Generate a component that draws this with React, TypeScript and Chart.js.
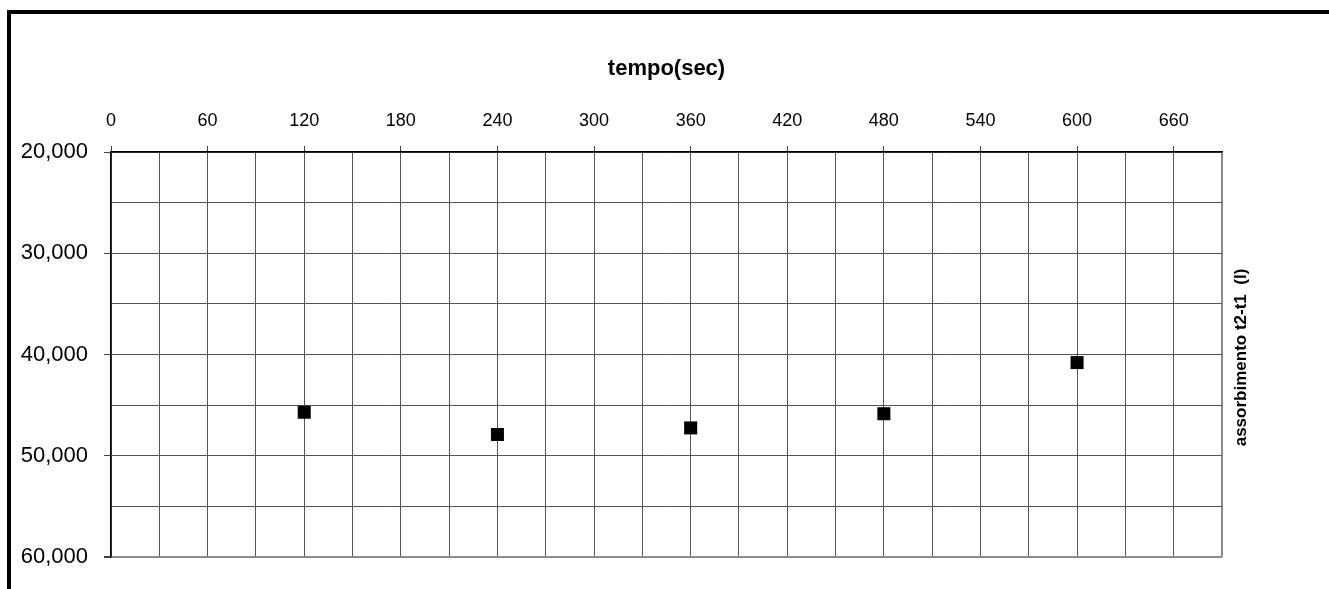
import React, { useEffect, useRef } from "react";
import { Chart, registerables } from "chart.js";

Chart.register(...registerables);

// Measurements: time (s) vs. absorption t2-t1 (l)
const tempoSec = [120, 240, 360, 480, 600];
const assorbimento = [45700, 47900, 47250, 45850, 40800];

// Labelled tick values (grid runs every half step)
const xLabelTicks = [0, 60, 120, 180, 240, 300, 360, 420, 480, 540, 600, 660];
const yLabelTicks = [20000, 30000, 40000, 50000, 60000];

const xTitle = "tempo(sec)";
const yTitle = "assorbimento t2-t1  (l)";

const FONT = "'Liberation Sans', Arial, Helvetica, sans-serif";

const formatThousands = (v: number) =>
  `${Math.floor(v / 1000)},${String(v % 1000).padStart(3, "0")}`;

// Right-hand axis title, reading bottom to top
const rightTitlePlugin = {
  id: "rightTitle",
  afterDraw(chart: any) {
    const { ctx, chartArea } = chart;
    ctx.save();
    ctx.translate(chartArea.right + 19, (chartArea.top + chartArea.bottom) / 2 + 3);
    ctx.rotate(-Math.PI / 2);
    ctx.font = `bold 17px ${FONT}`;
    ctx.fillStyle = "#000";
    ctx.textAlign = "center";
    ctx.textBaseline = "middle";
    ctx.fillText(yTitle, 0, 0);
    ctx.restore();
  },
};

export default function App() {
  const canvasRef = useRef<HTMLCanvasElement | null>(null);

  useEffect(() => {
    if (!canvasRef.current) return;
    const points = tempoSec.map((t, i) => ({ x: t, y: assorbimento[i] }));

    const chart = new Chart(canvasRef.current, {
      type: "scatter",
      data: {
        datasets: [
          {
            data: points,
            pointStyle: "rect",
            pointRadius: 9.2,
            pointHoverRadius: 9.2,
            backgroundColor: "#000",
            borderColor: "#000",
            borderWidth: 0,
          },
        ],
      },
      options: {
        animation: false,
        responsive: false,
        devicePixelRatio: 1,
        layout: { padding: { left: 0, top: 0, right: 107, bottom: 32 } },
        plugins: {
          legend: { display: false },
          tooltip: { enabled: false },
        },
        scales: {
          x: {
            type: "linear",
            position: "top",
            min: 0,
            max: 690,
            afterFit(scale: any) {
              scale.height = 152;
            },
            title: {
              display: true,
              text: xTitle,
              color: "#000",
              font: { family: FONT, size: 22, weight: "bold" },
              padding: { top: 55.5, bottom: 0 },
            },
            ticks: {
              stepSize: 30,
              autoSkip: false,
              maxRotation: 0,
              padding: 14,
              color: "#000",
              font: { family: FONT, size: 18 },
              callback: (v: any) => (xLabelTicks.includes(Number(v)) ? String(v) : ""),
            },
            grid: {
              drawTicks: true,
              tickLength: 6,
              color: (ctx: any) => (ctx.tick && ctx.tick.value === 690 ? "#8c8c8c" : "#555"),
              lineWidth: (ctx: any) => (ctx.tick && ctx.tick.value === 690 ? 2 : 1),
              tickColor: (ctx: any) =>
                ctx.tick && xLabelTicks.includes(ctx.tick.value) ? "#444" : "rgba(0,0,0,0)",
            },
            border: { display: true, color: "#000", width: 1.5 },
          },
          y: {
            type: "linear",
            position: "left",
            reverse: true,
            min: 20000,
            max: 60000,
            afterFit(scale: any) {
              scale.width = 111;
            },
            ticks: {
              stepSize: 5000,
              autoSkip: false,
              padding: 16,
              color: "#000",
              font: { family: FONT, size: 22 },
              callback: (v: any) =>
                yLabelTicks.includes(Number(v)) ? formatThousands(Number(v)) : "",
            },
            grid: {
              drawTicks: true,
              tickLength: 7,
              color: (ctx: any) => (ctx.tick && ctx.tick.value === 60000 ? "#8c8c8c" : "#555"),
              lineWidth: (ctx: any) => (ctx.tick && ctx.tick.value === 60000 ? 2 : 1),
              tickColor: (ctx: any) =>
                ctx.tick && yLabelTicks.includes(ctx.tick.value) ? "#444" : "rgba(0,0,0,0)",
            },
            border: { display: true, color: "#000", width: 1.5 },
          },
        },
      },
      plugins: [rightTitlePlugin],
    } as any);

    return () => chart.destroy();
  }, []);

  return (
    <div style={{ position: "fixed", inset: 0, overflow: "hidden", background: "#fff" }}>
      <div
        style={{
          position: "absolute",
          left: 7,
          top: 10,
          width: 3000,
          height: 3000,
          borderLeft: "4px solid #000",
          borderTop: "4px solid #000",
        }}
      />
      <canvas
        ref={canvasRef}
        width={1329}
        height={589}
        style={{ position: "absolute", left: 0, top: 0, width: 1329, height: 589 }}
      />
    </div>
  );
}
